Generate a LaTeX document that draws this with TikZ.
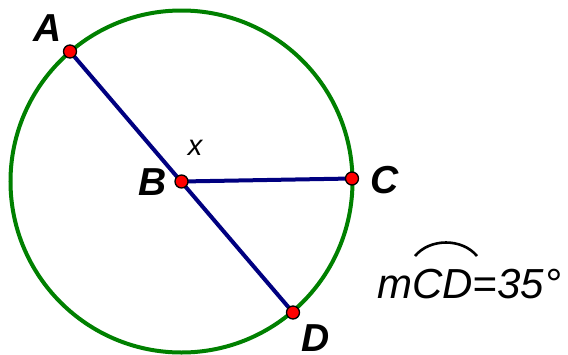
\documentclass[tikz,border=0pt]{standalone}
\usepackage{fontspec}
\setmainfont{Liberation Sans}
\begin{document}
\begin{tikzpicture}[x=1pt,y=-1pt,
  circ/.style={draw={rgb,255:red,0;green,128;blue,0},line width=4pt},
  seg/.style={draw={rgb,255:red,0;green,0;blue,128},line width=4pt},
  pt/.style={circle,fill=red,draw=black,line width=1.3pt,minimum size=13pt,inner sep=0pt},
  lab/.style={font=\fontsize{39}{39}\selectfont\bfseries\itshape,inner sep=0pt}]
\useasboundingbox (0,0) rectangle (568,354);
\coordinate (O) at (181.5,181.5);
\draw[circ] (O) circle (171);
\coordinate (Ac) at (70,51.5);
\coordinate (Dc) at (293,312.5);
\coordinate (Cc) at (352,178.5);
\draw[seg] (Ac) -- (Dc);
\draw[seg] (O) -- (Cc);
\node[pt] (A) at (Ac) {};
\node[pt] (B) at (O) {};
\node[pt] (C) at (Cc) {};
\node[pt] (D) at (Dc) {};
\node[lab] (lA) at (48,28.5) {A};
\node[lab] (lB) at (153,182) {B};
\node[lab] (lC) at (385,180) {C};
\node[lab] (lD) at (316,338) {D};
\node[font=\fontsize{29}{29}\selectfont\itshape,inner sep=0pt,anchor=base] (lx) at (195,155) {x};
\node[font=\fontsize{42}{42}\selectfont\itshape,inner sep=0pt,anchor=base west] (arc) at (377,298) {mCD=35°};
\draw[line width=2.6pt] (415,256) .. controls (430,238) and (462,238) .. (477,256);
\end{tikzpicture}
\end{document}
